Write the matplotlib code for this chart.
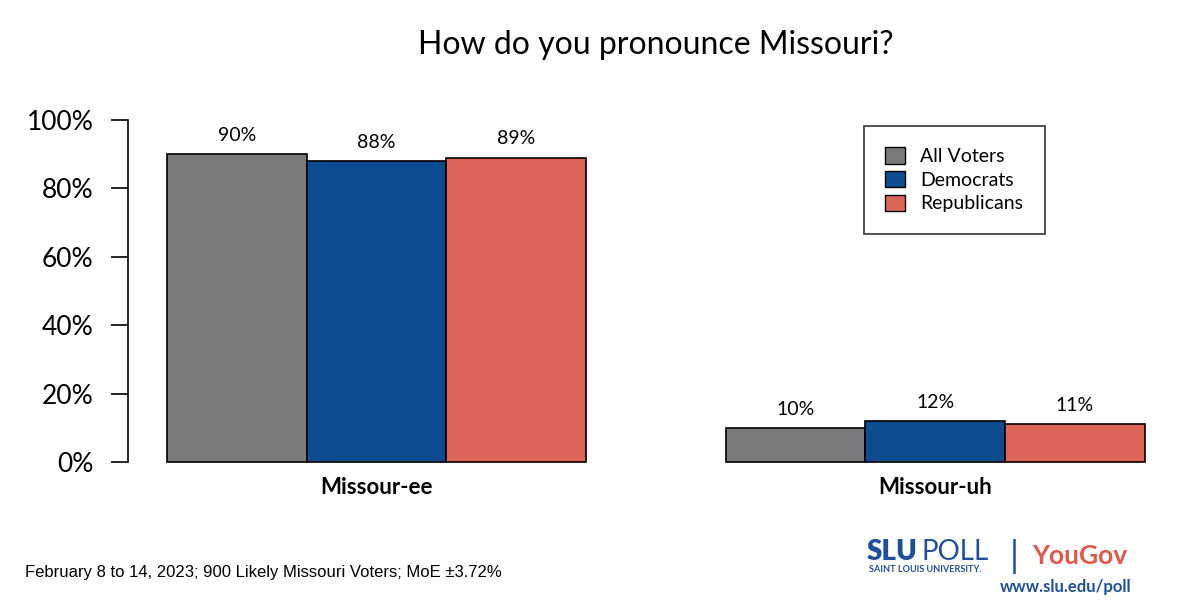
import matplotlib
matplotlib.use("Agg")
import matplotlib.pyplot as plt
from matplotlib.patches import Patch
import numpy as np

# data
categories = ["Missour-ee", "Missour-uh"]
groups = ["All Voters", "Democrats", "Republicans"]
all_voters = [0.90, 0.10]
democrats = [0.88, 0.12]
republicans = [0.89, 0.11]
colors = ["#7a7a7a", "#0e4c92", "#dd6557"]

FONT = "Lato"
fig = plt.figure(figsize=(12, 6), dpi=100)
fig.patch.set_facecolor("white")

# axes laid out like an R barplot: x spans 0.72..8.28, y spans -0.04..1.04
ax = fig.add_axes([128 / 1200, 1 - 475.7 / 600, (1183.6 - 128) / 1200, (475.7 - 106.3) / 600])
ax.set_xlim(0.72, 8.28)
ax.set_ylim(-0.04, 1.04)

series = [all_voters, democrats, republicans]
for gi, vals in enumerate(series):
    for ci, v in enumerate(vals):
        left = 1 + ci * 4 + gi
        ax.bar(left, v, width=1, align="edge", color=colors[gi], edgecolor="black", linewidth=1.2)
        ax.text(left + 0.5, v + 0.03, f"{round(v * 100)}%", ha="center", va="bottom",
                fontsize=14, family=FONT)

for ci, cat in enumerate(categories):
    ax.text(2.5 + ci * 4, -0.045, cat, ha="center", va="top", fontsize=16,
            family=FONT, fontweight="bold", transform=ax.transData)

for s in ("top", "right", "bottom"):
    ax.spines[s].set_visible(False)
ax.spines["left"].set_bounds(0, 1)
ax.spines["left"].set_linewidth(1.2)
ax.set_xticks([])
yt = np.linspace(0, 1, 6)
ax.set_yticks(yt)
ax.set_yticklabels([f"{int(t * 100)}%" for t in yt], fontsize=19, family=FONT)
ax.tick_params(axis="y", length=12, width=1.2, pad=13)

handles = [Patch(facecolor=c, edgecolor="black", label=g) for c, g in zip(colors, groups)]
leg = ax.legend(handles=handles, loc="upper left", bbox_to_anchor=((864 - 128) / 1055.6, (475.7 - 126) / 369.4),
                prop={"family": FONT, "size": 14}, frameon=True, fancybox=False,
                edgecolor="black", borderpad=1.1, handlelength=1.0, handleheight=0.9,
                handletextpad=0.8, labelspacing=0.3, borderaxespad=0)
leg.get_frame().set_linewidth(1.2)

fig.text(656 / 1200, 1 - 45 / 600, "How do you pronounce Missouri?", ha="center", va="center",
         fontsize=23, family=FONT)

fig.text(25 / 1200, 1 - 572 / 600, "February 8 to 14, 2023; 900 Likely Missouri Voters; MoE ±3.72%",
         ha="left", va="center", fontsize=12, family="Liberation Sans")

# logo block
blue = "#1f4f9a"
red = "#e0584a"
fig.text(867 / 1200, 1 - 552 / 600, "SLU", ha="left", va="center", fontsize=20, color=blue,
         family=FONT, fontweight="heavy")
fig.text(921 / 1200, 1 - 552 / 600, "POLL", ha="left", va="center", fontsize=20, color=blue,
         family=FONT)
fig.text(869 / 1200, 1 - 569 / 600, "SAINT LOUIS UNIVERSITY.", ha="left", va="center", fontsize=6.6,
         color=blue, family=FONT, fontweight="bold")
fig.text(1014 / 1200, 1 - 557 / 600, "|", ha="center", va="center", fontsize=26, color=blue,
         family=FONT)
fig.text(1032 / 1200, 1 - 556 / 600, "YouGov", ha="left", va="center", fontsize=19, color=red,
         family=FONT, fontweight="bold")
fig.text(1000 / 1200, 1 - 587 / 600, "www.slu.edu/poll", ha="left", va="center", fontsize=12,
         color=blue, family=FONT, fontweight="bold")

fig.savefig("out.png", dpi=100, facecolor="white")
